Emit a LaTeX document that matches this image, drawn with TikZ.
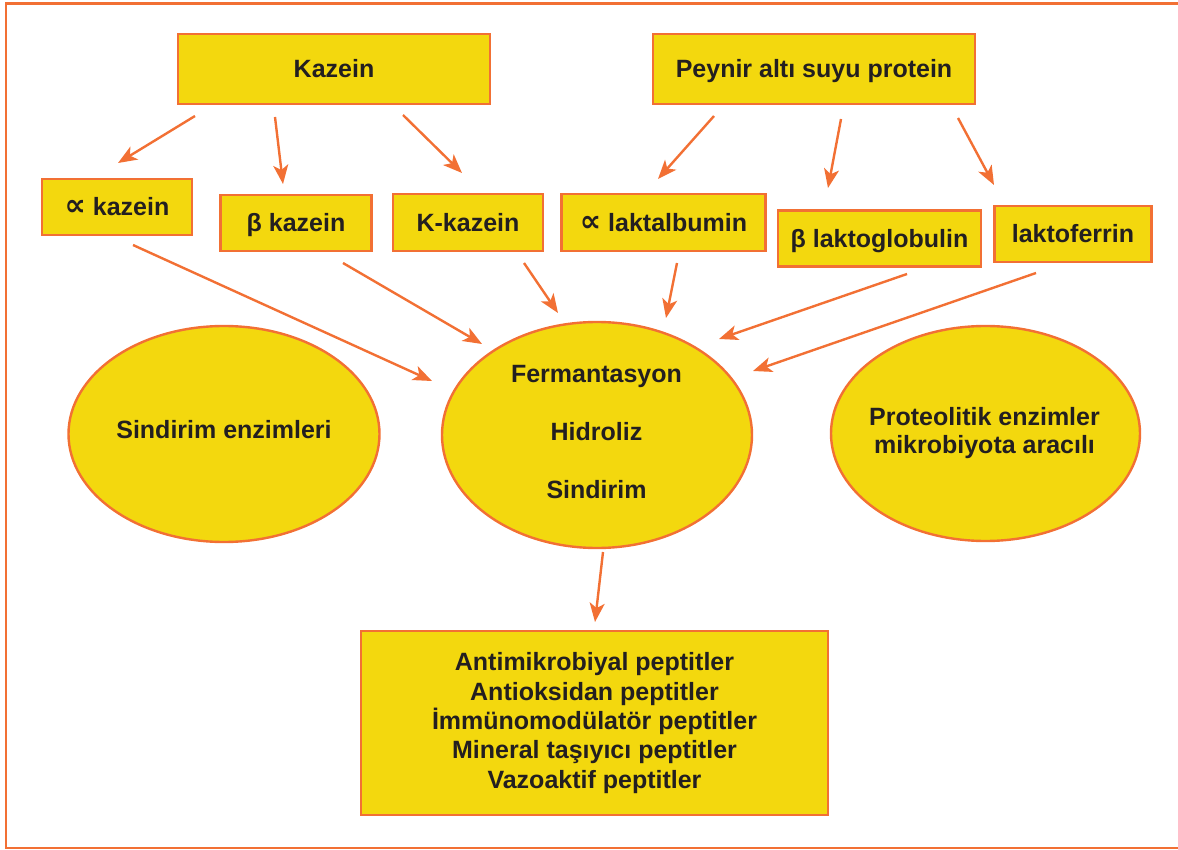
\documentclass[tikz,border=0pt]{standalone}
\usepackage{fontspec}
\setmainfont{Liberation Sans}
\newfontfamily\symfont{DejaVu Sans}
\usetikzlibrary{arrows.meta,shapes.geometric}
\definecolor{boxfill}{RGB}{243,216,14}
\definecolor{edgec}{RGB}{242,112,52}
\definecolor{ink}{RGB}{35,31,32}
\newcommand{\prop}{{\symfont\bfseries\fontsize{30}{30}\selectfont\char"221D}}
\begin{document}
\begin{tikzpicture}[x=1pt,y=-1pt,
  box/.style={draw=edgec, line width=2.8pt, fill=boxfill, inner sep=0pt, text=ink,
    font=\bfseries\fontsize{25}{29}\selectfont, text height=17.9pt, text depth=0pt},
  bigbox/.style={draw=edgec, line width=2.8pt, fill=boxfill, inner sep=0pt, text=ink,
    font=\bfseries\fontsize{25}{29.3}\selectfont, align=center},
  ell/.style={ellipse, draw=edgec, line width=2.4pt, fill=boxfill, inner sep=0pt},
  lbl/.style={text=ink, inner sep=0pt, align=center},
  arr/.style={draw=edgec, line width=2.4pt, -{Stealth[length=19pt,width=15pt,inset=5pt]}},
  frame/.style={draw=edgec, line width=2.8pt}]
\useasboundingbox (0,0) rectangle (1178,850);
\draw[frame] (1178,3.5) -- (6,3.5) -- (6,848) -- (1178,848);

% top boxes
\node[box, minimum width=312pt, minimum height=70pt] (kaz) at (334,69) {Kazein};
\node[box, minimum width=322pt, minimum height=70pt] (pey) at (814,69) {Peynir altı suyu protein};

% second row
\node[box, minimum width=150pt, minimum height=56pt] (ak) at (117,207) {\prop{} kazein};
\node[box, minimum width=151pt, minimum height=56pt] (bk) at (296,223) {β kazein};
\node[box, minimum width=150pt, minimum height=57pt] (kk) at (468,222.5) {K-kazein};
\node[box, minimum width=204pt, minimum height=57pt] (al) at (663.5,222.5) {\prop{} laktalbumin};
\node[box, minimum width=203pt, minimum height=56pt] (bl) at (879.5,238.5) {β laktoglobulin};
\node[box, minimum width=157pt, minimum height=56pt] (lf) at (1073,234) {laktoferrin};

% ellipses
\node[ell, minimum width=311pt, minimum height=216pt] (e1) at (224,434) {};
\node[ell, minimum width=310pt, minimum height=226pt] (e2) at (597,435) {};
\node[ell, minimum width=309pt, minimum height=215pt] (e3) at (985.5,433.5) {};
\node[lbl, font=\bfseries\fontsize{25}{29}\selectfont, text height=17.9pt, text depth=0pt] (t1) at (224,429.5) {Sindirim enzimleri};
\node[lbl, font=\bfseries\fontsize{25}{58}\selectfont] (t2) at (596.5,431.8) {Fermantasyon\\Hidroliz\\Sindirim};
\node[lbl, font=\bfseries\fontsize{25}{28}\selectfont] (t3) at (984.5,432.8) {Proteolitik enzimler\\mikrobiyota aracılı};

% bottom box
\node[bigbox, minimum width=467pt, minimum height=184pt] (out) at (594.5,723)
  {Antimikrobiyal peptitler\\Antioksidan peptitler\\İmmünomodülatör peptitler\\Mineral taşıyıcı peptitler\\Vazoaktif peptitler};

% arrows from top boxes
\draw[arr] ([shift={(-139,47)}]kaz.center) -- ([shift={(1,-44)}]ak.center);
\draw[arr] ([shift={(-59,48)}]kaz.center) -- ([shift={(-13,-39)}]bk.center);
\draw[arr] ([shift={(69,46)}]kaz.center) -- ([shift={(-6,-49.5)}]kk.center);
\draw[arr] ([shift={(-100,47)}]pey.center) -- ([shift={(-5.5,-43.5)}]al.center);
\draw[arr] ([shift={(27,50)}]pey.center) -- ([shift={(-51.5,-50.5)}]bl.center);
\draw[arr] ([shift={(144,49)}]pey.center) -- ([shift={(-79,-49)}]lf.center);

% arrows into middle ellipse
\draw[arr] ([shift={(16,38)}]ak.center) -- ([shift={(-165,-54)}]e2.center);
\draw[arr] ([shift={(47,40)}]bk.center) -- ([shift={(-115,-91)}]e2.center);
\draw[arr] ([shift={(56,40.5)}]kk.center) -- ([shift={(-39,-122)}]e2.center);
\draw[arr] ([shift={(13.5,40.5)}]al.center) -- ([shift={(69,-117)}]e2.center);
\draw[arr] ([shift={(27.5,35.5)}]bl.center) -- ([shift={(122,-96)}]e2.center);
\draw[arr] ([shift={(-37,39)}]lf.center) -- ([shift={(156,-64)}]e2.center);

% arrow to bottom box
\draw[arr] ([shift={(6,117)}]e2.center) -- ([shift={(0.5,-101)}]out.center);
\end{tikzpicture}
\end{document}
